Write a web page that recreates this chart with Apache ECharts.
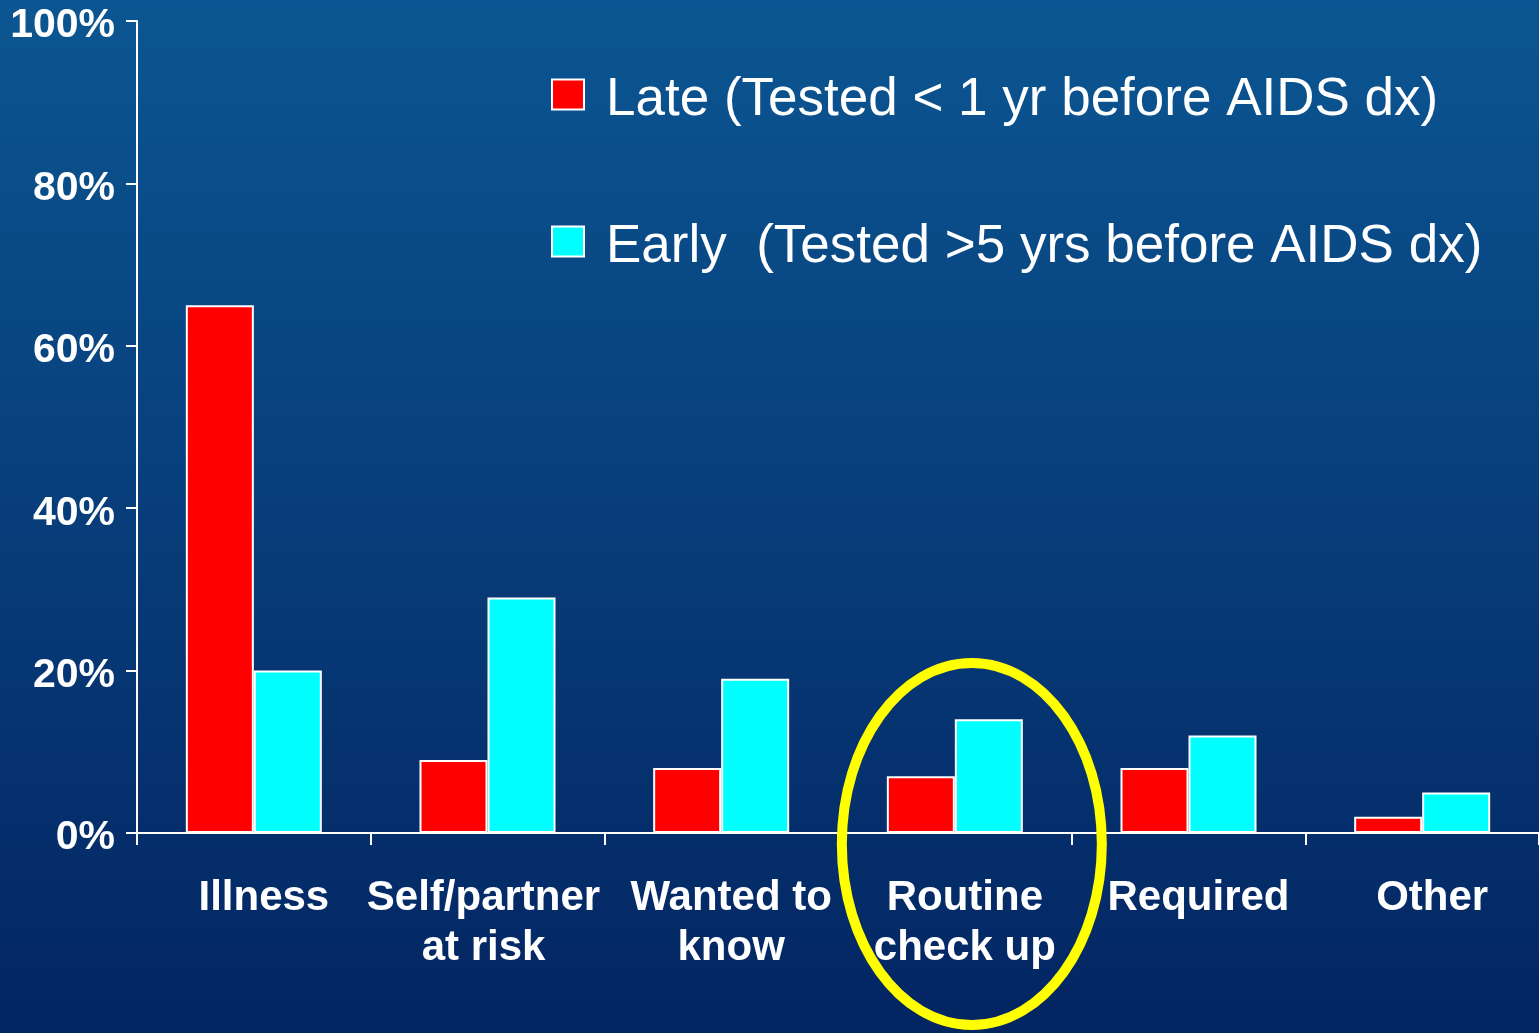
<!DOCTYPE html>
<html>
<head>
<meta charset="utf-8">
<script src="https://cdn.jsdelivr.net/npm/echarts@6/dist/echarts.min.js"></script>
<style>
html, body { margin: 0; padding: 0; background: #063a78; }
#chart { width: 1539px; height: 1033px; }
</style>
</head>
<body>
<div id="chart"></div>
<script>
// chart data
var categories = ['Illness', 'Self/partner\nat risk', 'Wanted to\nknow', 'Routine\ncheck up', 'Required', 'Other'];
var lateName = 'Late (Tested < 1 yr before AIDS dx)';
var earlyName = 'Early  (Tested >5 yrs before AIDS dx)';
var lateValues = [65, 9, 8, 7, 8, 2];
var earlyValues = [20, 29, 19, 14, 12, 5];
var yTicks = [0, 20, 40, 60, 80, 100];
var circled = 'Routine\ncheck up';

var font = "'Liberation Sans', Arial, sans-serif";
var myChart = echarts.init(document.getElementById('chart'));

var catLabel = { color: '#ffffff', fontSize: 42, fontWeight: 'bold', lineHeight: 50, fontFamily: font };

myChart.setOption({
    backgroundColor: new echarts.graphic.LinearGradient(0, 0, 0, 1, [
        { offset: 0, color: '#0b5692' },
        { offset: 1, color: '#032562' }
    ]),
    animation: false,
    textStyle: { fontFamily: font },
    grid: { left: 137, right: 0, top: 21, bottom: 200 },
    legend: {
        orient: 'vertical',
        left: 546,
        top: 57,
        itemWidth: 32,
        itemHeight: 30,
        itemGap: 82,
        icon: 'rect',
        formatter: '{t|{name}}',
        textStyle: {
            rich: {
                t: { color: '#ffffff', fontSize: 53, lineHeight: 53, fontFamily: font, padding: [12, 0, 0, 17] }
            }
        },
        data: [lateName, earlyName]
    },
    xAxis: {
        type: 'category',
        data: categories,
        axisLine: { lineStyle: { color: '#ffffff', width: 2 } },
        axisTick: { show: true, length: 12, lineStyle: { color: '#ffffff', width: 2 } },
        axisLabel: {
            margin: 40,
            interval: 0,
            formatter: function (value, index) {
                // most labels sit a little right of the category centre
                return index === 1 ? '{s|' + value.split('\n').join('}\n{s|') + '}'
                                   : '{r|' + value.split('\n').join('}\n{r|') + '}';
            },
            rich: {
                r: Object.assign({ padding: [0, 0, 0, 20] }, catLabel),
                s: Object.assign({ padding: [0, 8, 0, 0] }, catLabel)
            }
        }
    },
    yAxis: {
        type: 'value',
        min: yTicks[0],
        max: yTicks[yTicks.length - 1],
        interval: 20,
        splitLine: { show: false },
        axisLine: { show: true, lineStyle: { color: '#ffffff', width: 2 } },
        axisTick: { show: true, length: 11, lineStyle: { color: '#ffffff', width: 2 } },
        axisLabel: {
            margin: 22,
            formatter: '{v|{value}%}',
            rich: {
                v: { color: '#ffffff', fontSize: 41, fontWeight: 'bold', fontFamily: font, padding: [10, 0, 0, 0] }
            }
        }
    },
    series: [
        {
            name: lateName,
            type: 'bar',
            data: lateValues,
            barWidth: 68,
            barGap: '0%',
            itemStyle: { color: '#ff0000', borderColor: '#ffffff', borderWidth: 2 }
        },
        {
            name: earlyName,
            type: 'bar',
            data: earlyValues,
            barWidth: 68,
            barGap: '0%',
            itemStyle: { color: '#00ffff', borderColor: '#ffffff', borderWidth: 2 }
        }
    ]
});

// yellow ring round the "Routine check up" group
var cx = myChart.convertToPixel({ xAxisIndex: 0 }, circled) + 17;
var cy = myChart.convertToPixel({ yAxisIndex: 0 }, 0) + 11;
myChart.setOption({
    graphic: [{
        type: 'ellipse',
        shape: { cx: cx, cy: cy, rx: 130, ry: 181 },
        style: { fill: 'none', stroke: '#ffff00', lineWidth: 10 },
        z: 100
    }]
});
</script>
</body>
</html>
